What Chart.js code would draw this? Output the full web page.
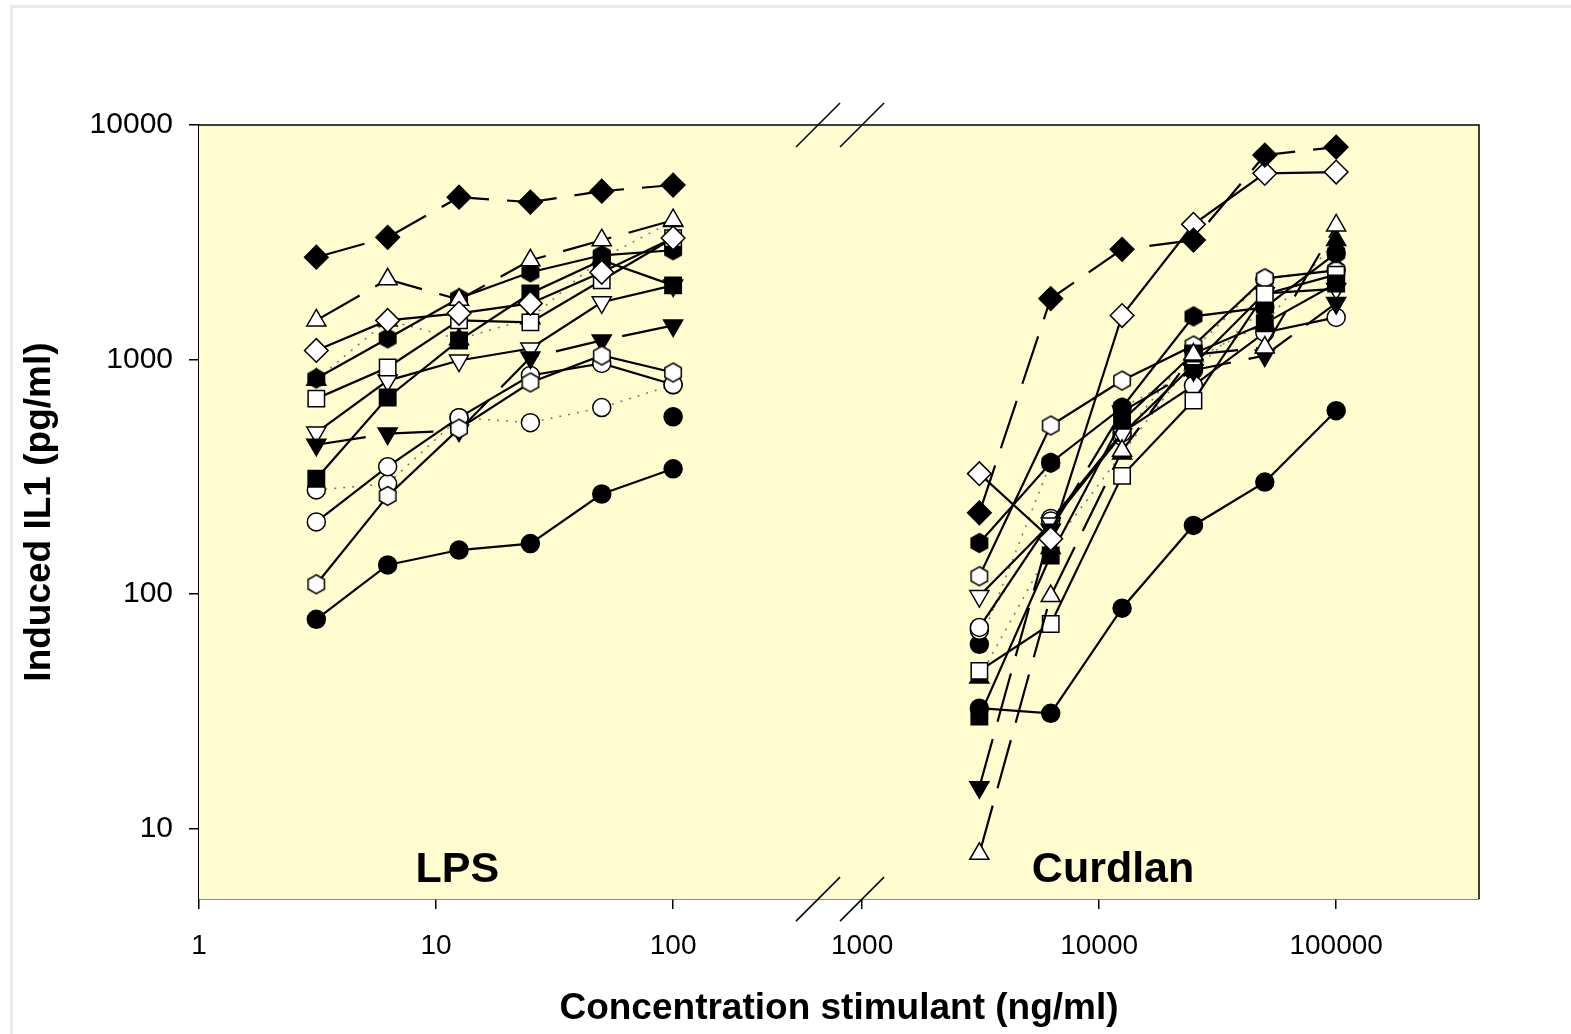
<!DOCTYPE html>
<html>
<head>
<meta charset="utf-8">
<script src="https://cdn.jsdelivr.net/npm/chart.js@4.4.1/dist/chart.umd.min.js"></script>
<style>
html, body { margin: 0; padding: 0; background: #fff; }
#wrap { position: relative; width: 1571px; height: 1034px; }
#frame { position: absolute; left: 10px; top: 5px; right: -10px; bottom: -10px; border: 3px solid #ebebe4; }
canvas { position: absolute; left: 0; top: 0; }
</style>
</head>
<body>
<div id="wrap">
  <div id="frame"></div>
  <canvas id="chart" width="1571" height="1034"></canvas>
</div>
<script>
// Concentrations (ng/ml)
const lpsDoses = [3.125, 6.25, 12.5, 25, 50, 100];
const curdlanDoses = [3125, 6250, 12500, 25000, 50000, 100000];

// Axis ticks
const yTicks = [10, 100, 1000, 10000];
const xTicksLps = [1, 10, 100];
const xTicksCurdlan = [1000, 10000, 100000];

// Induced IL1 (pg/ml) per donor
const donorA_lps = [78, 133, 154, 164, 267, 342];
const donorA_cur = [32.6, 31, 87, 196, 300, 605];
const donorB_lps = [2730, 3318, 4920, 4690, 5220, 5547];
const donorB_cur = [222, 1820, 2950, 3230, 7440, 8050];
const donorC_lps = [1093, 1468, 1574, 1735, 2355, 3300];
const donorC_cur = [326, 172, 1540, 3770, 6220, 6300];
const donorD_lps = [1468, 2197, 1800, 2650, 3226, 3926];
const donorD_cur = [7.8, 98, 408, 1050, 1125, 3730];
const donorE_lps = [310, 689, 1206, 1915, 2650, 2070];
const donorE_cur = [30, 146, 549, 1060, 1426, 2110];
const donorF_lps = [681, 925, 1468, 1440, 2176, 3290];
const donorF_cur = [47, 74.5, 319, 668, 1900, 2300];
const donorG_lps = [830, 1230, 1824, 2355, 2782, 2924];
const donorG_cur = [165, 363, 624, 1527, 1668, 2840];
const donorH_lps = [110, 262, 507, 798, 1040, 880];
const donorH_cur = [119, 523, 813, 1147, 2218, 2400];
const donorI_lps = [433, 483, 498, 1020, 1206, 1398];
const donorI_cur = [15, 188, 600, 900, 1040, 1740];
const donorJ_lps = [488, 813, 990, 1114, 1754, 2070];
const donorJ_cur = [98, 200, 480, 950, 1915, 2000];
const donorK_lps = [203, 349, 565, 855, 962, 782];
const donorK_cur = [72, 205, 488, 774, 1304, 1512];
const donorL_lps = [278, 295, 565, 538, 624, 780];
const donorL_cur = [70, 210, 470, 1100, 2200, 2400];
const donorM_lps = [820, 1468, 1220, 1500, 2700, 3900];
const donorM_cur = [44, 157, 397, 1000, 1426, 3230];
const donorN_lps = [null, null, null, null, null, 570];
const donorN_cur = [61, 363, 624, 898, 1668, 2840];

// symbol / line style per donor
const donors = [
  { lps: donorA_lps, cur: donorA_cur, mark: 'circle',  filled: true,  line: 'solid' },
  { lps: donorB_lps, cur: donorB_cur, mark: 'diamond', filled: true,  line: 'dash' },
  { lps: donorC_lps, cur: donorC_cur, mark: 'diamond', filled: false, line: 'solid' },
  { lps: donorD_lps, cur: donorD_cur, mark: 'triUp',   filled: false, line: 'dash' },
  { lps: donorE_lps, cur: donorE_cur, mark: 'square',  filled: true,  line: 'solid' },
  { lps: donorF_lps, cur: donorF_cur, mark: 'square',  filled: false, line: 'solid' },
  { lps: donorG_lps, cur: donorG_cur, mark: 'hex',     filled: true,  line: 'solid' },
  { lps: donorH_lps, cur: donorH_cur, mark: 'hex',     filled: false, line: 'solid' },
  { lps: donorI_lps, cur: donorI_cur, mark: 'triDown', filled: true,  line: 'dash' },
  { lps: donorJ_lps, cur: donorJ_cur, mark: 'triDown', filled: false, line: 'solid' },
  { lps: donorK_lps, cur: donorK_cur, mark: 'circle',  filled: false, line: 'solid' },
  { lps: donorL_lps, cur: donorL_cur, mark: 'circle',  filled: false, line: 'dot' },
  { lps: donorM_lps, cur: donorM_cur, mark: 'triUp',   filled: true,  line: 'dot' },
  { lps: donorN_lps, cur: donorN_cur, mark: 'circle',  filled: true,  line: 'dot' }
];

const FONT = '"Liberation Sans", Arial, sans-serif';
const lineDash = { solid: [], dash: [50, 18], dot: [2, 7] };

// hexagon symbols are not built in, so draw them once on small canvases
function hexagon(filled) {
  const c = document.createElement('canvas');
  c.width = 22;
  c.height = 22;
  const g = c.getContext('2d');
  g.beginPath();
  for (let k = 0; k < 6; k++) {
    const a = Math.PI / 3 * k;
    const px = 11 + 9.5 * Math.sin(a), py = 11 - 9.5 * Math.cos(a);
    if (k) g.lineTo(px, py); else g.moveTo(px, py);
  }
  g.closePath();
  g.fillStyle = filled ? '#000' : '#fff';
  g.fill();
  g.lineWidth = 1.5;
  g.strokeStyle = '#000';
  g.stroke();
  return c;
}
const hexFilled = hexagon(true);
const hexOpen = hexagon(false);

function markerOf(d) {
  switch (d.mark) {
    case 'circle':  return { style: 'circle', radius: 9, rot: 0 };
    case 'diamond': return { style: 'rectRot', radius: 11.8, rot: 0 };
    case 'square':  return { style: 'rect', radius: 11.6, rot: 0 };
    case 'triUp':   return { style: 'triangle', radius: 11, rot: 0 };
    case 'triDown': return { style: 'triangle', radius: 11, rot: 180 };
    default:        return { style: d.filled ? hexFilled : hexOpen, radius: 10, rot: 0 };
  }
}

function makeSet(values, doses, axis, d) {
  const m = markerOf(d);
  return {
    xAxisID: axis,
    yAxisID: 'y',
    data: doses.map((x, i) => ({ x: x, y: values[i] })),
    borderColor: d.line === 'dot' ? '#7a7a7a' : '#000',
    borderWidth: d.line === 'dot' ? 1.6 : 2.2,
    borderDash: lineDash[d.line],
    pointStyle: m.style,
    pointRadius: m.radius,
    pointRotation: m.rot,
    pointBackgroundColor: d.filled ? '#000' : '#fff',
    pointBorderColor: '#000',
    pointBorderWidth: 1.5,
    tension: 0,
    spanGaps: false
  };
}

const datasets = [];
donors.forEach(d => {
  datasets.push(makeSet(d.lps, lpsDoses, 'xL', d));
  datasets.push(makeSet(d.cur, curdlanDoses, 'xR', d));
});

// plot background, frame, axis-break marks and panel labels
const decor = {
  id: 'decor',
  beforeDatasetsDraw(chart) {
    const { ctx, chartArea: a } = chart;
    ctx.save();
    ctx.fillStyle = '#fffdd0';
    ctx.fillRect(a.left, a.top, a.right - a.left, a.bottom - a.top);
    ctx.restore();
  },
  afterDatasetsDraw(chart) {
    const { ctx, scales } = chart;
    ctx.save();
    ctx.fillStyle = '#000';
    ctx.font = 'bold 43px ' + FONT;
    ctx.textAlign = 'center';
    ctx.textBaseline = 'middle';
    ctx.fillText('LPS', scales.xL.getPixelForValue(12.3), scales.y.getPixelForValue(6.65));
    ctx.fillText('Curdlan', scales.xR.getPixelForValue(11450), scales.y.getPixelForValue(6.65));
    ctx.restore();
  },
  afterDraw(chart) {
    const { ctx, chartArea: a, scales } = chart;
    ctx.save();
    ctx.strokeStyle = '#000';
    ctx.lineWidth = 1.5;
    ctx.beginPath();
    ctx.moveTo(a.left, a.top);
    ctx.lineTo(a.right, a.top);
    ctx.lineTo(a.right, a.bottom);
    ctx.stroke();
    const xb2 = scales.xR.left;
    const breaks = [xb2 - 44, xb2];
    [a.top, a.bottom].forEach(y => {
      breaks.forEach(x => {
        ctx.beginPath();
        ctx.moveTo(x - 22, y + 22);
        ctx.lineTo(x + 22, y - 22);
        ctx.stroke();
      });
    });
    ctx.restore();
  }
};

function xAxis(min, max, ticks, weight) {
  return {
    type: 'logarithmic',
    position: 'bottom',
    stack: 'x',
    stackWeight: weight,
    min: min,
    max: max,
    afterBuildTicks: s => { s.ticks = ticks.map(v => ({ value: v })); },
    afterFit: s => { s.height = 87.5; },
    border: { display: true, color: '#000', width: 1.5 },
    grid: { drawOnChartArea: false, drawTicks: true, tickLength: 10, color: '#000', lineWidth: 1.5 },
    ticks: {
      color: '#000',
      padding: 20,
      maxRotation: 0,
      autoSkip: false,
      font: { family: FONT, size: 28 },
      callback: v => String(v)
    }
  };
}

new Chart(document.getElementById('chart'), {
  type: 'line',
  data: { datasets: datasets },
  options: {
    responsive: false,
    animation: false,
    devicePixelRatio: 1,
    layout: { padding: { left: 10, top: 125, right: 92, bottom: 0 } },
    plugins: {
      legend: { display: false },
      tooltip: { enabled: false },
      title: {
        display: true,
        position: 'bottom',
        fullSize: false,
        text: 'Concentration stimulant (ng/ml)',
        color: '#000',
        font: { family: FONT, size: 37, weight: 'bold' },
        padding: { top: 0, bottom: 3 }
      }
    },
    scales: {
      xL: xAxis(1, Math.pow(10, 661.5 / 236.5), xTicksLps, 661.5),
      xR: xAxis(1000, Math.pow(10, 3 + 615.5 / 236.5), xTicksCurdlan, 615.5),
      y: {
        type: 'logarithmic',
        position: 'left',
        min: 5,
        max: 10000,
        afterBuildTicks: s => { s.ticks = yTicks.map(v => ({ value: v })); },
        afterFit: s => { s.width = 189; },
        border: { display: true, color: '#000', width: 1.5 },
        grid: { drawOnChartArea: false, drawTicks: true, tickLength: 10, color: '#000', lineWidth: 1.5 },
        ticks: {
          color: '#000',
          padding: 16,
          font: { family: FONT, size: 30 },
          callback: v => String(v)
        },
        title: {
          display: true,
          text: 'Induced IL1 (pg/ml)',
          color: '#000',
          font: { family: FONT, size: 37, weight: 'bold' },
          padding: { top: 8, bottom: 0 }
        }
      }
    }
  },
  plugins: [decor]
});
</script>
</body>
</html>
